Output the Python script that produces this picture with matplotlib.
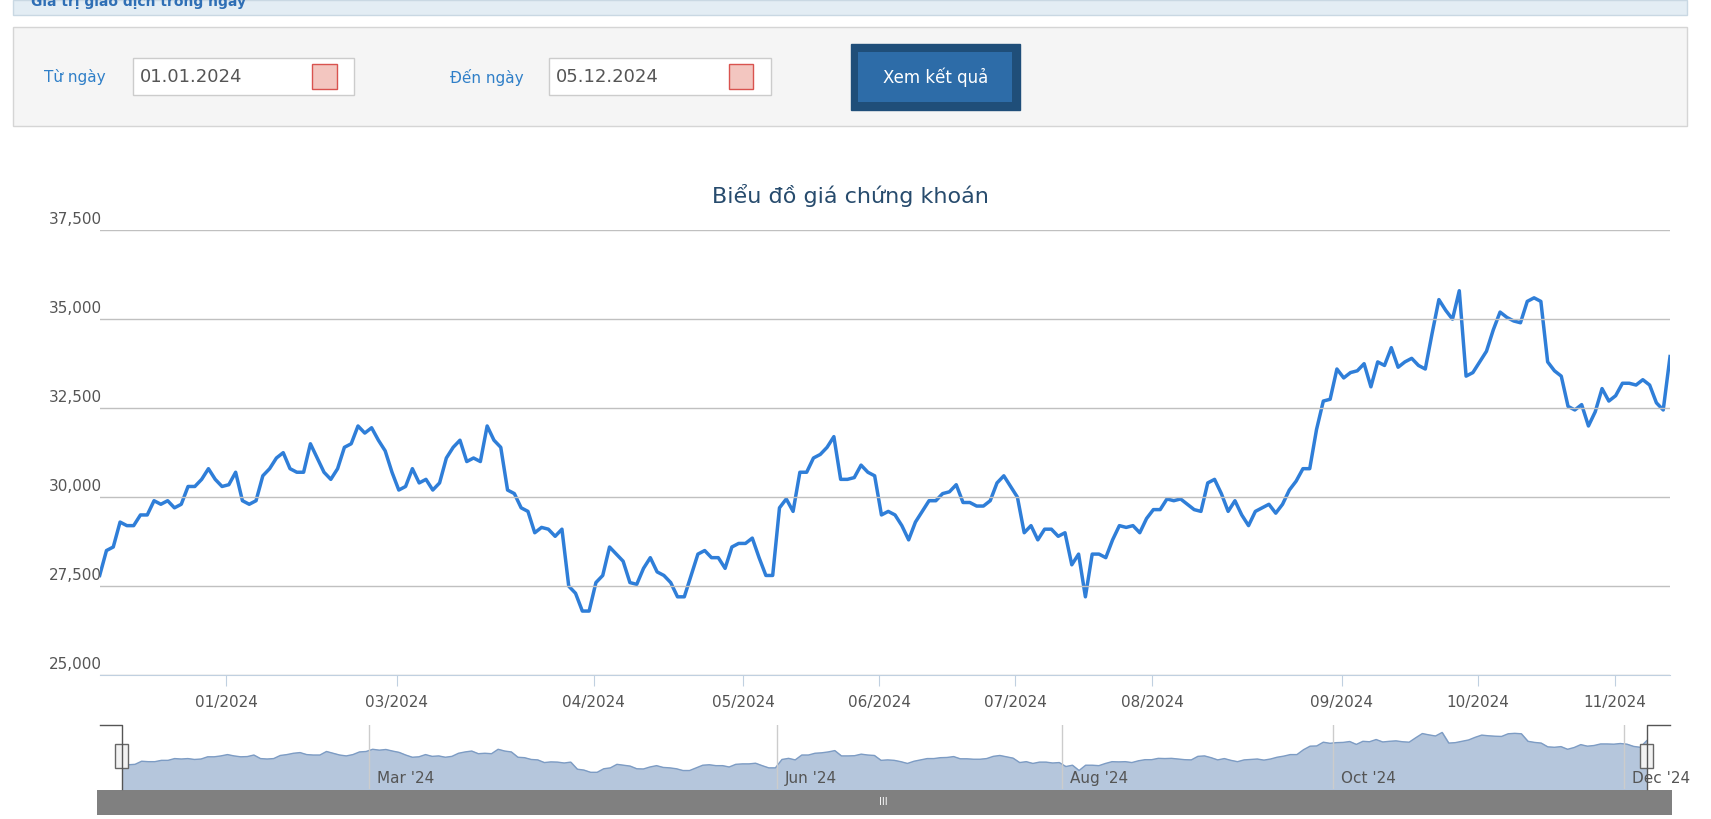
import matplotlib
matplotlib.use("Agg")
import matplotlib.pyplot as plt
from matplotlib.patches import Rectangle
import numpy as np

prices = [27.8,28.5,28.6,29.3,29.2,29.2,29.5,29.5,29.9,29.8,29.9,29.7,29.8,30.3,30.3,30.5,30.8,30.5,30.3,30.35,
30.7,29.9,29.8,29.9,30.6,30.8,31.1,31.25,30.8,30.7,30.7,31.5,31.1,30.7,30.5,30.8,31.4,31.5,32.0,31.8,
31.95,31.6,31.3,30.7,30.2,30.3,30.8,30.4,30.5,30.2,30.4,31.1,31.4,31.6,31.0,31.1,31.0,32.0,31.6,31.4,
30.2,30.1,29.7,29.6,29.0,29.15,29.1,28.9,29.1,27.5,27.3,26.8,26.8,27.6,27.8,28.6,28.4,28.2,27.6,27.55,
28.0,28.3,27.9,27.8,27.6,27.2,27.2,27.8,28.4,28.5,28.3,28.3,28.0,28.6,28.7,28.7,28.85,28.3,27.8,27.8,
29.7,29.95,29.6,30.7,30.7,31.1,31.2,31.4,31.7,30.5,30.5,30.55,30.9,30.7,30.6,29.5,29.6,29.5,29.2,28.8,
29.3,29.6,29.9,29.9,30.1,30.15,30.35,29.85,29.85,29.75,29.75,29.9,30.4,30.6,30.3,30.0,29.0,29.2,28.8,29.1,
29.1,28.9,29.0,28.1,28.4,27.2,28.4,28.4,28.3,28.8,29.2,29.15,29.2,29.0,29.4,29.65,29.65,29.95,29.9,29.95,
29.8,29.65,29.6,30.4,30.5,30.1,29.6,29.9,29.5,29.2,29.6,29.7,29.8,29.55,29.8,30.2,30.45,30.8,30.8,31.9,
32.7,32.75,33.6,33.35,33.5,33.55,33.75,33.1,33.8,33.7,34.2,33.65,33.8,33.9,33.7,33.6,34.6,35.55,35.25,35.0,
35.8,33.4,33.5,33.8,34.1,34.7,35.2,35.05,34.95,34.9,35.5,35.6,35.5,33.8,33.55,33.4,32.55,32.45,32.6,32.0,
32.4,33.05,32.7,32.85,33.2,33.2,33.15,33.3,33.15,32.65,32.45,33.95]
prices = [p*1000 for p in prices]
month_labels = ["01/2024","03/2024","04/2024","05/2024","06/2024","07/2024","08/2024","09/2024","10/2024","11/2024"]
month_idx = [18.6,43.7,72.7,94.7,114.7,134.7,154.8,182.7,202.7,222.9]
nav_labels = ["Mar '24","Jun '24","Aug '24","Oct '24","Dec '24"]
nav_idx = [37.4,99.3,142.4,183.5,227.5]
yticks = [25000,27500,30000,32500,35000,37500]

W, H = 1545, 740
fig = plt.figure(figsize=(17.11, 8.19), dpi=100)
def rect(x0, y0, x1, y1):
    return [x0/W, 1-y1/H, (x1-x0)/W, (y1-y0)/H]
def fx(x): return x/W
def fy(y): return 1-y/H

fig.patches.append(Rectangle((fx(12), fy(14)), (1523-12)/W, 14/H, transform=fig.transFigure,
                             facecolor="#e3edf4", edgecolor="#c9d8e3"))
fig.text(fx(28), fy(2), "Giá trị giao dịch trong ngày", color="#2f6fb5", fontsize=10, fontweight="bold", va="center")
fig.patches.append(Rectangle((fx(12), fy(114)), (1523-12)/W, 90/H, transform=fig.transFigure,
                             facecolor="#f5f5f5", edgecolor="#d5d5d5"))
fig.text(fx(40), fy(70), "Từ ngày", color="#2f7fc8", fontsize=11, va="center")
fig.text(fx(406), fy(70), "Đến ngày", color="#2f7fc8", fontsize=11, va="center")
for x0, s in [(120, "01.01.2024"), (496, "05.12.2024")]:
    fig.patches.append(Rectangle((fx(x0), fy(86)), 200/W, 34/H, transform=fig.transFigure,
                                 facecolor="white", edgecolor="#cccccc"))
    fig.text(fx(x0+6), fy(70), s, color="#555555", fontsize=13, va="center")
    fig.patches.append(Rectangle((fx(x0+162), fy(80)), 22/W, 22/H, transform=fig.transFigure,
                                 facecolor="#f3c6c0", edgecolor="#d9534f"))
fig.patches.append(Rectangle((fx(768), fy(99)), 153/W, 59/H, transform=fig.transFigure,
                             facecolor="#1f4e79", edgecolor="#1f4e79"))
fig.patches.append(Rectangle((fx(775), fy(92)), 139/W, 45/H, transform=fig.transFigure,
                             facecolor="#2d6ca8", edgecolor="none"))
fig.text(fx(845), fy(70), "Xem kết quả", color="white", fontsize=12, va="center", ha="center")

x = np.arange(len(prices))
ax = fig.add_axes(rect(90, 208, 1508, 610))
ax.plot(x, prices, color="#2f7ed8", lw=2.5)
ax.set_xlim(0, len(prices)-1)
ax.set_ylim(25000, 37500)
ax.set_yticks(yticks)
ax.set_yticklabels([])
for v in yticks:
    ax.axhline(v, color="#c0c0c0", lw=1)
    yy = 610 - (v-25000)/12500*402
    fig.text(fx(92), fy(yy-10), f"{v:,}", ha="right", va="center", fontsize=11, color="#555555")
ax.tick_params(axis="y", length=0)
ax.set_xticks(month_idx)
ax.set_xticklabels(month_labels, fontsize=11, color="#555555")
ax.tick_params(axis="x", length=8, color="#c0d0e0", pad=6)
for s in ["top", "right", "left"]:
    ax.spines[s].set_visible(False)
ax.spines["bottom"].set_color("#c0d0e0")
fig.text(fx(768), fy(177), "Biểu đồ giá chứng khoán", ha="center", va="center", fontsize=16, color="#274b6d")

nav = fig.add_axes(rect(110, 655, 1487, 713))
nx = np.arange(len(prices))
nav.fill_between(nx, 23000, prices, color="#b5c6dc")
nav.plot(nx, prices, color="#7d9cc4", lw=1)
nav.set_xlim(0, len(prices)-1)
nav.set_ylim(23000, 37500)
nav.set_xticks([]); nav.set_yticks([])
for s in nav.spines.values(): s.set_visible(False)
for i, l in zip(nav_idx, nav_labels):
    nav.axvline(i, color="#cccccc", lw=1)
    nav.text(i+1.2, 23600, l, fontsize=11, color="#555555", va="bottom", clip_on=False)
fig.add_artist(plt.Line2D([fx(90), fx(110), fx(110)], [fy(655), fy(655), fy(713)], color="#555555", lw=1))
fig.add_artist(plt.Line2D([fx(1487), fx(1487), fx(1508)], [fy(713), fy(655), fy(655)], color="#555555", lw=1))
for hx in [110, 1487]:
    fig.patches.append(Rectangle((fx(hx-6), fy(694)), 12/W, 22/H, transform=fig.transFigure,
                                 facecolor="#f2f2f2", edgecolor="#666666"))
fig.patches.append(Rectangle((fx(88), fy(736)), (1510-88)/W, 22/H, transform=fig.transFigure,
                             facecolor="#808080", edgecolor="none"))
fig.text(fx(798), fy(725), "III", ha="center", va="center", fontsize=7, color="white")

fig.savefig("out.png", dpi=100)
